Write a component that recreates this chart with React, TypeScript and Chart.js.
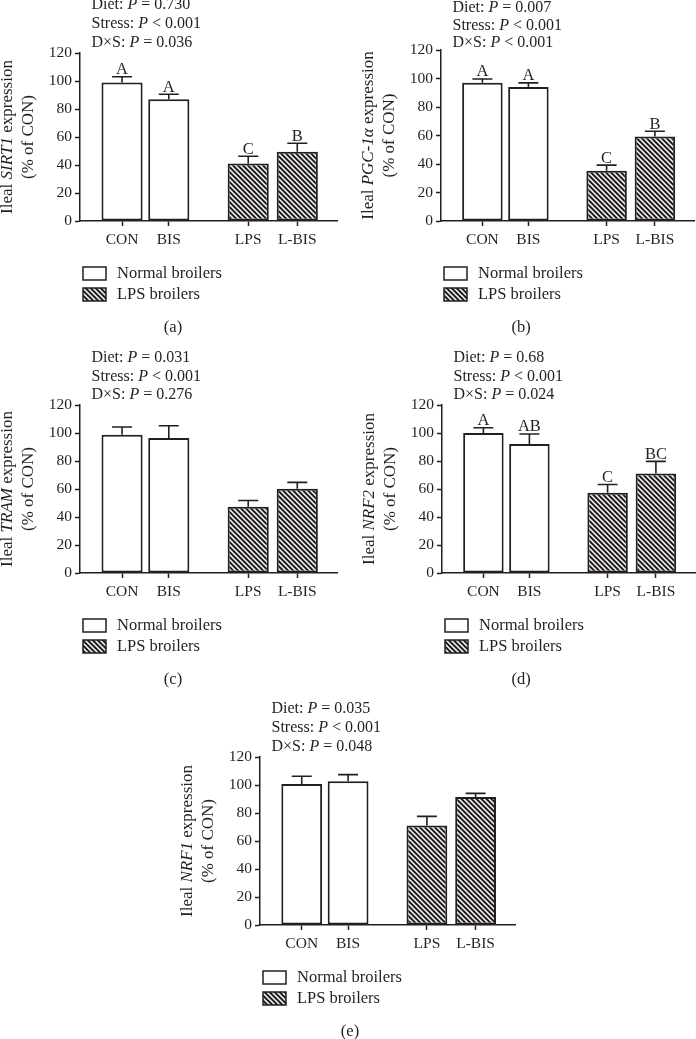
import React, { useEffect, useRef } from 'react';
import { Chart, registerables } from 'chart.js';

Chart.register(...registerables);

const INK = '#231f20';
const SERIF = '"Liberation Serif", "Times New Roman", serif';

// ---- data ----
const groups = ['CON', 'BIS', 'LPS', 'L-BIS'];
const groupKind = [0, 0, 1, 1]; // 0 = normal broilers, 1 = LPS broilers
const legendLabels = ['Normal broilers', 'LPS broilers'];
const effectNames = ['Diet', 'Stress', 'D×S'];

const sirt1Mean = [99, 87, 41, 49.5];
const sirt1Sem = [4, 3.5, 5.2, 6];
const sirt1Letters = ['A', 'A', 'C', 'B'];
const sirt1P = ['= 0.730', '< 0.001', '= 0.036'];

const pgcMean = [97, 94, 35.3, 59.3];
const pgcSem = [2.7, 2.9, 3.9, 3.7];
const pgcLetters = ['A', 'A', 'C', 'B'];
const pgcP = ['= 0.007', '< 0.001', '< 0.001'];

const tramMean = [98.8, 96.4, 47.3, 60.1];
const tramSem = [5.5, 8.8, 4.5, 4.6];
const tramLetters = ['', '', '', ''];
const tramP = ['= 0.031', '< 0.001', '= 0.276'];

const nrf2Mean = [100, 92.1, 57.3, 71.1];
const nrf2Sem = [3.8, 7.2, 5.9, 8.6];
const nrf2Letters = ['A', 'AB', 'C', 'BC'];
const nrf2P = ['= 0.68', '< 0.001', '= 0.024'];

const nrf1Mean = [100.7, 102.6, 71.1, 91.4];
const nrf1Sem = [5.5, 4.8, 6.5, 2.6];
const nrf1Letters = ['', '', '', ''];
const nrf1P = ['= 0.035', '< 0.001', '= 0.048'];

// ---- layout (scale positions of the four groups, and panel boxes) ----
const groupX = [1, 2, 3.7, 4.75];
const X_MIN = 0.1;
const X_MAX = 5.6;

type Panel = {
  gene: string;
  mean: number[];
  sem: number[];
  letters: string[];
  pvals: string[];
  caption: string;
  left: number;
  top: number;
  width: number;
  height: number;
  axisX: number;
  plotTop: number;
  plotBottom: number;
  plotRight: number;
  pY: number;
  pStep: number;
};

const panels: Panel[] = [
  { gene: 'SIRT1', mean: sirt1Mean, sem: sirt1Sem, letters: sirt1Letters, pvals: sirt1P, caption: '(a)',
    left: 0, top: 0, width: 346, height: 340, axisX: 80, plotTop: 53, plotBottom: 221, plotRight: 337, pY: 5, pStep: 19 },
  { gene: 'PGC-1α', mean: pgcMean, sem: pgcSem, letters: pgcLetters, pvals: pgcP, caption: '(b)',
    left: 346, top: 0, width: 350, height: 340, axisX: 95, plotTop: 50, plotBottom: 221, plotRight: 348, pY: 8, pStep: 17.5 },
  { gene: 'TRAM', mean: tramMean, sem: tramSem, letters: tramLetters, pvals: tramP, caption: '(c)',
    left: 0, top: 340, width: 346, height: 350, axisX: 80, plotTop: 65, plotBottom: 233, plotRight: 337, pY: 18, pStep: 18.5 },
  { gene: 'NRF2', mean: nrf2Mean, sem: nrf2Sem, letters: nrf2Letters, pvals: nrf2P, caption: '(d)',
    left: 346, top: 340, width: 350, height: 350, axisX: 96, plotTop: 65, plotBottom: 233, plotRight: 349, pY: 18, pStep: 18.5 },
  { gene: 'NRF1', mean: nrf1Mean, sem: nrf1Sem, letters: nrf1Letters, pvals: nrf1P, caption: '(e)',
    left: 170, top: 680, width: 360, height: 359, axisX: 90, plotTop: 77, plotBottom: 245, plotRight: 345, pY: 29, pStep: 19 },
];

type Run = { t: string; it?: boolean };

function fontOf(size: number, italic?: boolean) {
  return `${italic ? 'italic ' : ''}${size}px ${SERIF}`;
}

function drawRuns(ctx: CanvasRenderingContext2D, runs: Run[], x: number, y: number, size: number, align: 'left' | 'center') {
  let w = 0;
  for (const r of runs) {
    ctx.font = fontOf(size, r.it);
    w += ctx.measureText(r.t).width;
  }
  let cx = align === 'center' ? x - w / 2 : x;
  ctx.textAlign = 'left';
  for (const r of runs) {
    ctx.font = fontOf(size, r.it);
    ctx.fillText(r.t, cx, y);
    cx += ctx.measureText(r.t).width;
  }
}

function makeHatch(ctx: CanvasRenderingContext2D): CanvasPattern | string {
  const s = 5;
  const c = document.createElement('canvas');
  c.width = s;
  c.height = s;
  const g = c.getContext('2d');
  if (!g) return '#555';
  g.fillStyle = '#231f20';
  g.fillRect(0, 0, s, s);
  g.strokeStyle = '#ffffff';
  g.lineWidth = 1.5;
  for (let k = -1; k <= 1; k++) {
    g.beginPath();
    g.moveTo(k * s - 1, -1);
    g.lineTo(k * s + s + 1, s + 1);
    g.stroke();
  }
  return ctx.createPattern(c, 'repeat') || '#555';
}

function ChartPanel({ p }: { p: Panel }) {
  const ref = useRef<HTMLCanvasElement>(null);

  useEffect(() => {
    const canvas = ref.current;
    if (!canvas) return;
    const ctx = canvas.getContext('2d');
    if (!ctx) return;
    const hatch = makeHatch(ctx);
    const fills = groupKind.map((k) => (k === 0 ? '#ffffff' : hatch));

    const overlay = {
      id: 'overlay',
      afterDatasetsDraw(chart: any) {
        const c = chart.ctx as CanvasRenderingContext2D;
        const meta = chart.getDatasetMeta(0);
        const ys = chart.scales.y;
        c.save();
        c.strokeStyle = INK;
        c.lineWidth = 1.6;
        c.fillStyle = INK;
        meta.data.forEach((bar: any, i: number) => {
          const yTop = ys.getPixelForValue(p.mean[i]);
          const yCap = ys.getPixelForValue(p.mean[i] + p.sem[i]);
          c.beginPath();
          c.moveTo(bar.x, yTop);
          c.lineTo(bar.x, yCap);
          c.moveTo(bar.x - 10, yCap);
          c.lineTo(bar.x + 10, yCap);
          c.stroke();
          if (p.letters[i]) {
            c.font = fontOf(16.5);
            c.textAlign = 'center';
            c.textBaseline = 'alphabetic';
            c.fillText(p.letters[i], bar.x, yCap - 2.5);
          }
        });
        c.restore();
      },
      afterDraw(chart: any) {
        const c = chart.ctx as CanvasRenderingContext2D;
        const area = chart.chartArea;
        c.save();
        c.fillStyle = INK;
        c.textBaseline = 'middle';
        // P values
        effectNames.forEach((name, i) => {
          drawRuns(c, [{ t: `${name}: ` }, { t: 'P', it: true }, { t: ` ${p.pvals[i]}` }],
            area.left + 11.5, p.pY + i * p.pStep, 16, 'left');
        });
        // y-axis title
        const midY = (area.top + area.bottom) / 2;
        c.save();
        c.translate(area.left - 72, midY);
        c.rotate(-Math.PI / 2);
        c.textBaseline = 'middle';
        drawRuns(c, [{ t: 'Ileal ' }, { t: p.gene, it: true }, { t: ' expression' }], 0, 0, 17, 'center');
        c.restore();
        c.save();
        c.translate(area.left - 51, midY);
        c.rotate(-Math.PI / 2);
        c.textBaseline = 'middle';
        drawRuns(c, [{ t: '(% of CON)' }], 0, 0, 17, 'center');
        c.restore();
        // legend
        const tops = [area.bottom + 46, area.bottom + 67];
        legendLabels.forEach((label, i) => {
          const bx = area.left + 3;
          const by = tops[i];
          c.fillStyle = i === 0 ? '#ffffff' : (hatch as any);
          c.fillRect(bx, by, 23, 13);
          c.strokeStyle = INK;
          c.lineWidth = 1.5;
          c.strokeRect(bx, by, 23, 13);
          c.fillStyle = INK;
          c.textBaseline = 'middle';
          drawRuns(c, [{ t: label }], bx + 34, by + 7, 16.5, 'left');
        });
        // caption
        c.textBaseline = 'middle';
        drawRuns(c, [{ t: p.caption }], p.width / 2, area.bottom + 107, 16.5, 'center');
        c.restore();
      },
    };

    const chart = new Chart(canvas, {
      type: 'bar',
      data: {
        datasets: [
          {
            data: groupX.map((x, i) => ({ x, y: p.mean[i] })) as any,
            backgroundColor: fills as any,
            borderColor: INK,
            borderWidth: 2,
            borderSkipped: false,
            barPercentage: 0.88,
            categoryPercentage: 1,
          },
        ],
      },
      options: {
        animation: false,
        responsive: false,
        devicePixelRatio: 1,
        layout: { padding: { left: 0, top: p.plotTop, right: p.width - p.plotRight, bottom: 0 } },
        plugins: { legend: { display: false }, tooltip: { enabled: false }, title: { display: false } },
        scales: {
          x: {
            type: 'linear',
            min: X_MIN,
            max: X_MAX,
            bounds: 'data',
            offset: false,
            grid: {
              display: true,
              offset: false,
              drawOnChartArea: false,
              drawTicks: true,
              tickLength: 5,
              tickColor: INK,
              tickWidth: 1.5,
              color: INK,
            },
            border: { display: true, color: INK, width: 1.5 },
            ticks: {
              autoSkip: false,
              maxRotation: 0,
              padding: 5,
              color: INK,
              font: { family: SERIF, size: 15.5 },
              callback: (_v: any, idx: number) => groups[idx],
            },
            afterBuildTicks: (s: any) => {
              s.ticks = groupX.map((v) => ({ value: v }));
            },
            afterFit: (s: any) => {
              s.height = p.height - p.plotBottom;
            },
          } as any,
          y: {
            min: 0,
            max: 120,
            grid: {
              display: true,
              drawOnChartArea: false,
              drawTicks: true,
              tickLength: 5,
              tickColor: INK,
              tickWidth: 1.5,
              color: INK,
            },
            border: { display: true, color: INK, width: 1.5 },
            ticks: {
              stepSize: 20,
              padding: 3,
              color: INK,
              font: { family: SERIF, size: 15.5 },
            },
            afterFit: (s: any) => {
              s.width = p.axisX;
            },
          } as any,
        },
      },
      plugins: [overlay as any],
    });

    return () => chart.destroy();
  }, [p]);

  return (
    <canvas
      ref={ref}
      width={p.width}
      height={p.height}
      style={{ position: 'absolute', left: p.left, top: p.top, width: p.width, height: p.height }}
    />
  );
}

export default function App() {
  return (
    <div
      style={{
        position: 'absolute',
        left: 0,
        top: 0,
        width: 696,
        height: 1039,
        background: '#ffffff',
        overflow: 'hidden',
      }}
    >
      {panels.map((p) => (
        <ChartPanel key={p.caption} p={p} />
      ))}
    </div>
  );
}
